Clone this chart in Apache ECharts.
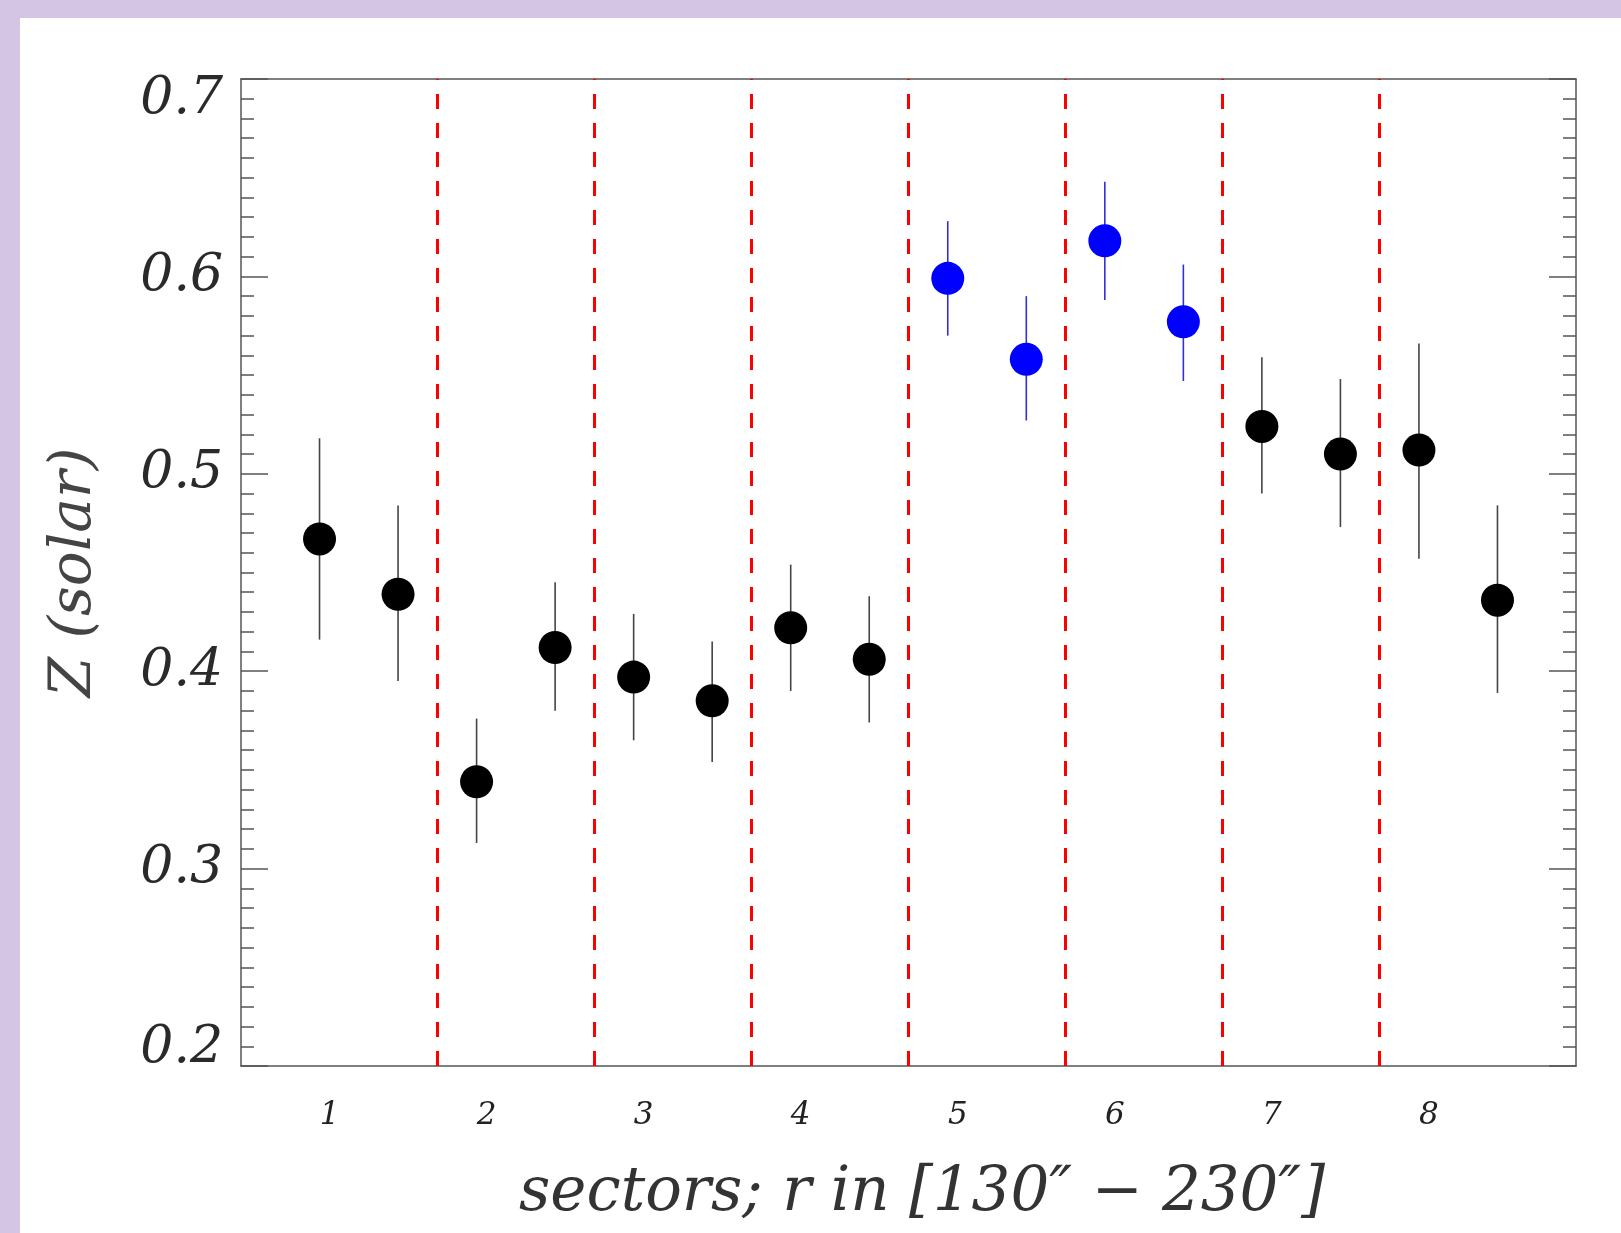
<!DOCTYPE html>
<html><head><meta charset="utf-8">
<script src="https://cdn.jsdelivr.net/npm/echarts@6/dist/echarts.min.js"></script>
<style>
html,body{margin:0;padding:0;background:#d5c5e4;width:1621px;height:1233px;overflow:hidden}
#chart{position:absolute;left:20px;top:18px;width:1601px;height:1215px;background:#fff}
</style></head><body><div id="chart"></div>
<script>
// half-sector positions of the measurements (two per sector)
const positions = [1, 2, 3, 4, 5, 6, 7, 8, 9, 10, 11, 12, 13, 14, 15, 16];
const sectorLabels = ['1', '2', '3', '4', '5', '6', '7', '8'];
const zValues = [0.467, 0.439, 0.344, 0.412, 0.397, 0.385, 0.422, 0.406, 0.599, 0.558, 0.618, 0.577, 0.524, 0.510, 0.512, 0.436];
const zLow    = [0.416, 0.395, 0.313, 0.380, 0.365, 0.354, 0.390, 0.374, 0.570, 0.527, 0.588, 0.547, 0.490, 0.473, 0.457, 0.389];
const zHigh   = [0.518, 0.484, 0.376, 0.445, 0.429, 0.415, 0.454, 0.438, 0.628, 0.590, 0.648, 0.606, 0.559, 0.548, 0.566, 0.484];
const isBlue  = [false, false, false, false, false, false, false, false, true, true, true, true, false, false, false, false];
const sectorBoundaries = [2.5, 4.5, 6.5, 8.5, 10.5, 12.5, 14.5];
const yMin = 0.2, yMax = 0.7, yStep = 0.1;

const FONT = '"DejaVu Serif", serif';
const blackPts = [], bluePts = [], errData = [];
positions.forEach((x, i) => {
  (isBlue[i] ? bluePts : blackPts).push([x, zValues[i]]);
  errData.push([x, zLow[i], zHigh[i], isBlue[i] ? 1 : 0]);
});

const chart = echarts.init(document.getElementById('chart'), null, { width: 1601, height: 1215 });
const axisLineStyle = { color: '#555', width: 1.5 };
chart.setOption({
  animation: false,
  backgroundColor: '#fff',
  grid: { left: 221, top: 61, right: 45, bottom: 167, containLabel: false },
  xAxis: [{
    type: 'value', min: 0, max: 17, interval: 1, position: 'bottom',
    axisLine: { show: true, onZero: false, lineStyle: axisLineStyle },
    axisTick: { show: false }, splitLine: { show: false },
    axisLabel: {
      margin: 34,
      formatter: v => {
        const k = (v - 1) / 2;
        return (v % 2 === 1 && k < sectorLabels.length) ? '{l|' + sectorLabels[k] + '}' : '';
      },
      rich: { l: { fontFamily: FONT, fontStyle: 'italic', fontSize: 31, color: '#222', padding: [0, 0, 0, 20], lineHeight: 32 } }
    },
    name: 'sectors; r in [130\u2033 \u2212 230\u2033]',
    nameLocation: 'middle', nameGap: 98,
    nameTextStyle: { fontFamily: FONT, fontStyle: 'italic', fontSize: 61, color: '#333', padding: [0, 0, 0, 27] }
  }, {
    type: 'value', min: 0, max: 17, position: 'top',
    axisLine: { show: true, onZero: false, lineStyle: axisLineStyle },
    axisTick: { show: false }, axisLabel: { show: false }, splitLine: { show: false }
  }],
  yAxis: [{
    type: 'value', min: yMin, max: yMax, interval: yStep, position: 'left',
    axisLine: { show: true, onZero: false, lineStyle: axisLineStyle },
    axisTick: { show: true, inside: true, length: 27, lineStyle: axisLineStyle },
    minorTick: { show: true, splitNumber: 10, length: 13, lineStyle: axisLineStyle },
    splitLine: { show: false },
    axisLabel: {
      margin: 18,
      formatter: v => {
        const s = v.toFixed(1);
        if (Math.abs(v - yMax) < 1e-9) return '{t|' + s + '}';
        if (Math.abs(v - yMin) < 1e-9) return '{b|' + s + '}';
        return '{m|' + s + '}';
      },
      rich: {
        m: { fontFamily: FONT, fontStyle: 'italic', fontSize: 52, color: '#2a2a2a' },
        t: { fontFamily: FONT, fontStyle: 'italic', fontSize: 52, color: '#2a2a2a', padding: [40, 0, 0, 0] },
        b: { fontFamily: FONT, fontStyle: 'italic', fontSize: 52, color: '#2a2a2a', padding: [0, 0, 36, 0] }
      }
    },
    name: 'Z (solar)', nameLocation: 'middle', nameGap: 137, nameRotate: 90,
    nameTextStyle: { fontFamily: FONT, fontStyle: 'italic', fontSize: 58, color: '#444' }
  }, {
    type: 'value', min: yMin, max: yMax, interval: yStep, position: 'right',
    axisLine: { show: true, onZero: false, lineStyle: axisLineStyle },
    axisTick: { show: true, inside: true, length: 27, lineStyle: axisLineStyle },
    minorTick: { show: true, splitNumber: 10, length: 13, lineStyle: axisLineStyle },
    splitLine: { show: false }, axisLabel: { show: false }
  }],
  series: [{
    type: 'custom', xAxisIndex: 0, yAxisIndex: 0, z: 2,
    data: errData,
    renderItem: (params, api) => {
      const x = api.value(0);
      const p1 = api.coord([x, api.value(1)]);
      const p2 = api.coord([x, api.value(2)]);
      const blue = api.value(3) === 1;
      return {
        type: 'line',
        shape: { x1: p1[0], y1: p1[1], x2: p2[0], y2: p2[1] },
        style: { stroke: blue ? '#3030d8' : '#444', lineWidth: 1.6 }
      };
    },
    markLine: {
      silent: true, symbol: 'none', label: { show: false },
      lineStyle: { color: '#ff0000', width: 3, type: [15, 14] },
      data: sectorBoundaries.map(b => ({ xAxis: b }))
    }
  }, {
    type: 'scatter', z: 3, symbol: 'circle', symbolSize: 33,
    itemStyle: { color: '#000', opacity: 1 }, data: blackPts
  }, {
    type: 'scatter', z: 3, symbol: 'circle', symbolSize: 33,
    itemStyle: { color: '#0000ff', opacity: 1 }, data: bluePts
  }]
});
</script></body></html>
